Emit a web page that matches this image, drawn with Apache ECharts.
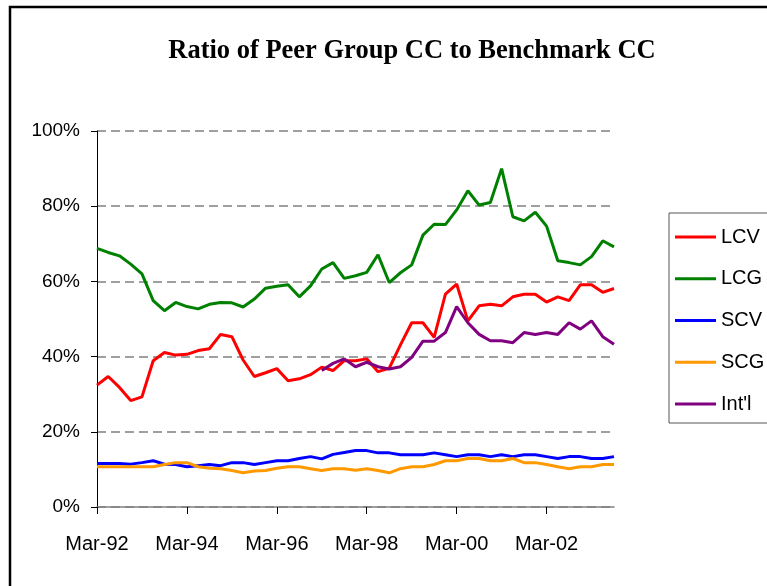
<!DOCTYPE html>
<html>
<head>
<meta charset="utf-8">
<script src="https://cdn.jsdelivr.net/npm/echarts@6/dist/echarts.min.js"></script>
<style>
  html, body { margin: 0; padding: 0; background: #fff; }
  #chart { width: 767px; height: 586px; }
</style>
</head>
<body>
<div id="chart"></div>
<script>
// quarters, Mar-92 .. Sep-03
const quarters = [
  'Mar-92', 'Jun-92', 'Sep-92', 'Dec-92', 'Mar-93', 'Jun-93', 'Sep-93', 'Dec-93',
  'Mar-94', 'Jun-94', 'Sep-94', 'Dec-94', 'Mar-95', 'Jun-95', 'Sep-95', 'Dec-95',
  'Mar-96', 'Jun-96', 'Sep-96', 'Dec-96', 'Mar-97', 'Jun-97', 'Sep-97', 'Dec-97',
  'Mar-98', 'Jun-98', 'Sep-98', 'Dec-98', 'Mar-99', 'Jun-99', 'Sep-99', 'Dec-99',
  'Mar-00', 'Jun-00', 'Sep-00', 'Dec-00', 'Mar-01', 'Jun-01', 'Sep-01', 'Dec-01',
  'Mar-02', 'Jun-02', 'Sep-02', 'Dec-02', 'Mar-03', 'Jun-03', 'Sep-03'
]

// ratio in %
const lcv = [
  32.4, 34.7, 31.8, 28.3, 29.3, 38.9, 41.1, 40.4, 40.6, 41.6, 42.1, 45.9,
  45.3, 39.1, 34.7, 35.7, 36.8, 33.6, 34.1, 35.2, 37.2, 36.3, 38.9, 38.9,
  39.4, 36.0, 36.9, 43.1, 49.0, 49.0, 45.1, 56.6, 59.3, 49.5, 53.5, 53.9,
  53.5, 55.9, 56.6, 56.6, 54.5, 55.9, 54.9, 59.1, 59.1, 57.1, 58.1
]
const lcg = [
  68.8, 67.7, 66.8, 64.6, 62.0, 54.9, 52.2, 54.4, 53.3, 52.7, 53.9, 54.4,
  54.3, 53.2, 55.3, 58.2, 58.7, 59.1, 55.9, 58.8, 63.3, 65.0, 60.8, 61.5,
  62.4, 67.1, 59.7, 62.3, 64.4, 72.3, 75.2, 75.1, 79.0, 84.1, 80.3, 81.0,
  90.0, 77.2, 76.1, 78.4, 74.7, 65.5, 65.0, 64.4, 66.6, 70.8, 69.2
]
const scv = [
  11.6, 11.6, 11.6, 11.4, 11.8, 12.3, 11.4, 11.3, 10.7, 11.0, 11.3, 11.0,
  11.8, 11.8, 11.3, 11.8, 12.3, 12.3, 12.9, 13.4, 12.8, 14.0, 14.5, 15.0,
  15.0, 14.4, 14.4, 13.9, 13.9, 13.9, 14.4, 13.9, 13.4, 13.9, 13.9, 13.4,
  13.9, 13.4, 13.9, 13.9, 13.4, 12.9, 13.4, 13.4, 12.9, 12.9, 13.4
]
const scg = [
  10.7, 10.7, 10.7, 10.7, 10.7, 10.7, 11.3, 11.8, 11.8, 10.7, 10.3, 10.2,
  9.7, 9.1, 9.6, 9.7, 10.3, 10.7, 10.7, 10.2, 9.7, 10.2, 10.2, 9.8,
  10.2, 9.7, 9.1, 10.2, 10.7, 10.7, 11.3, 12.3, 12.3, 12.9, 12.9, 12.3,
  12.3, 12.9, 11.8, 11.8, 11.3, 10.7, 10.2, 10.7, 10.7, 11.3, 11.3
]
const intl = [
  '-', '-', '-', '-', '-', '-', '-', '-', '-', '-', '-', '-',
  '-', '-', '-', '-', '-', '-', '-', '-', 36.3, 38.2, 39.4, 37.3,
  38.5, 37.3, 36.7, 37.3, 39.8, 44.1, 44.1, 46.4, 53.3, 49.0, 45.9, 44.2,
  44.2, 43.7, 46.4, 45.9, 46.4, 45.9, 49.0, 47.3, 49.5, 45.3, 43.3
]

const seriesNames = ['LCV', 'LCG', 'SCV', 'SCG', "Int'l"]
const seriesColors = ['#FF0000', '#008000', '#0000FF', '#FF9900', '#800080']
const seriesData = [lcv, lcg, scv, scg, intl]

const myChart = echarts.init(document.getElementById('chart'))
myChart.setOption({
  animation: false,
  color: seriesColors,
  title: {
    text: 'Ratio of Peer Group CC to Benchmark CC',
    left: 412,
    top: 38,
    padding: 0,
    textAlign: 'center',
    textStyle: {
      fontFamily: 'Liberation Serif',
      fontWeight: 'bold',
      fontSize: 26.5,
      color: '#000'
    }
  },
  graphic: [
    {
      // outer frame of the chart
      type: 'rect',
      shape: { x: 10, y: 7, width: 820, height: 640 },
      style: { fill: 'none', stroke: '#000', lineWidth: 2.5 },
      silent: true
    }
  ],
  legend: {
    orient: 'vertical',
    left: 669,
    top: 213,
    icon: 'rect',
    itemWidth: 41,
    itemHeight: 3,
    itemGap: 21.75,
    padding: [14, 60, 9, 6],
    borderColor: '#555',
    borderWidth: 1,
    textStyle: {
      fontFamily: 'Liberation Sans',
      fontSize: 20,
      lineHeight: 20,
      color: '#000'
    },
    data: seriesNames
  },
  grid: {
    left: 97,
    right: 153,
    top: 131,
    bottom: 79,
    containLabel: false
  },
  xAxis: {
    type: 'category',
    boundaryGap: false,
    data: quarters,
    axisLine: { lineStyle: { color: '#808080', width: 1.5 } },
    axisTick: { interval: 7, length: 7, lineStyle: { color: '#000' } },
    axisLabel: {
      interval: 7,
      margin: 27,
      fontFamily: 'Liberation Sans',
      fontSize: 20,
      color: '#000'
    },
    splitLine: { show: false }
  },
  yAxis: {
    type: 'value',
    min: 0,
    max: 100,
    interval: 20,
    axisLine: { show: true, lineStyle: { color: '#000', width: 1 } },
    axisTick: { show: true, length: 6, lineStyle: { color: '#000' } },
    axisLabel: {
      formatter: '{value}%',
      margin: 17,
      fontFamily: 'Liberation Sans',
      fontSize: 19,
      color: '#000'
    },
    splitLine: {
      lineStyle: { color: '#808080', width: 1.5, type: [9, 5] }
    }
  },
  series: seriesNames.map((name, i) => ({
    name: name,
    type: 'line',
    data: seriesData[i],
    showSymbol: false,
    symbol: 'none',
    lineStyle: { width: 3, color: seriesColors[i] },
    z: i === 3 ? 3 : 2
  }))
})
</script>
</body>
</html>
